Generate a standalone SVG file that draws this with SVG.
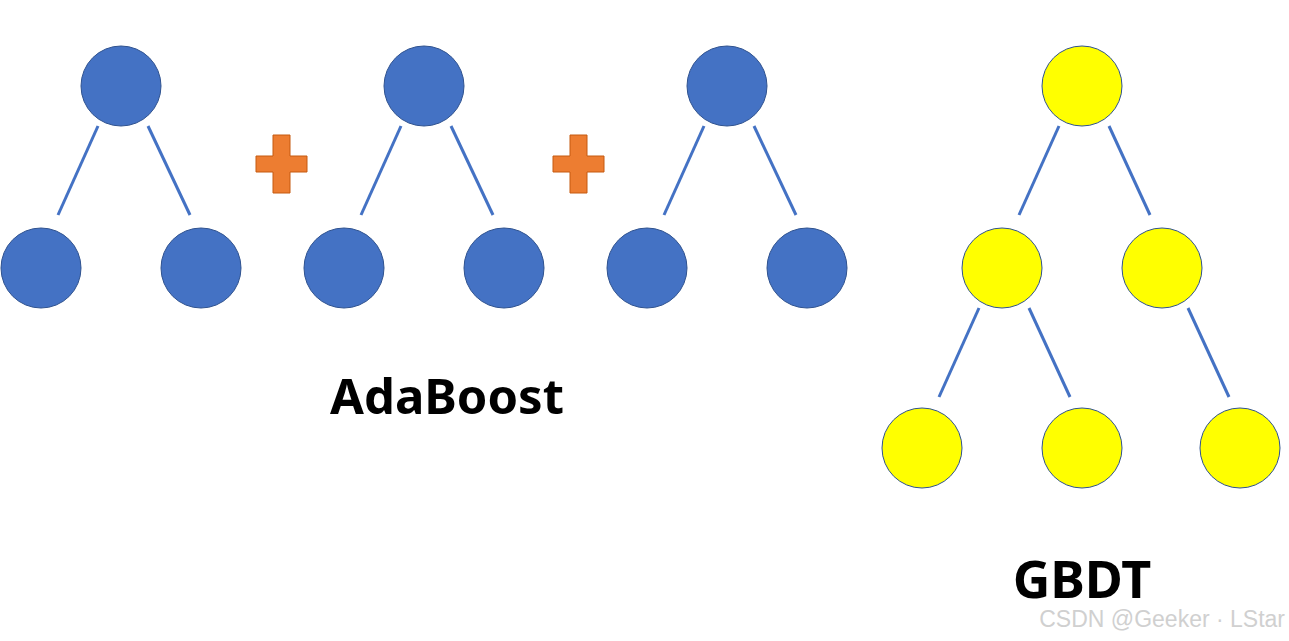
<svg xmlns="http://www.w3.org/2000/svg" width="1289" height="641" viewBox="0 0 1289 641">
<style>
.b{fill:#4472C4;stroke:#2F528F;stroke-width:1}
.y{fill:#FFFF00;stroke:#2F528F;stroke-width:1}
.e{stroke:#4472C4;stroke-width:3}
.p{fill:#ED7D31;stroke:#C55A11;stroke-width:1}
.t{font-family:"Noto Sans","Open Sans",sans-serif;font-weight:bold;fill:#000;text-anchor:middle}
</style>
<rect width="1289" height="641" fill="#fff"/>
<g id="connectors">
<line class="e" x1="98" y1="126" x2="58" y2="215"/><line class="e" x1="148" y1="126" x2="190" y2="215"/>
<line class="e" x1="401" y1="126" x2="361" y2="215"/><line class="e" x1="451" y1="126" x2="493" y2="215"/>
<line class="e" x1="704" y1="126" x2="664" y2="215"/><line class="e" x1="754" y1="126" x2="796" y2="215"/>
<line class="e" x1="1059" y1="126" x2="1019" y2="215"/><line class="e" x1="1109" y1="126" x2="1150" y2="215"/>
<line class="e" x1="979" y1="308" x2="939" y2="397"/><line class="e" x1="1029" y1="308" x2="1070" y2="397"/>
<line class="e" x1="1188" y1="308" x2="1229" y2="397"/>
</g>
<g id="ada1"><circle class="b" cx="121" cy="86" r="40"/><circle class="b" cx="41" cy="268" r="40"/><circle class="b" cx="201" cy="268" r="40"/></g>
<g id="ada2"><circle class="b" cx="424" cy="86" r="40"/><circle class="b" cx="344" cy="268" r="40"/><circle class="b" cx="504" cy="268" r="40"/></g>
<g id="ada3"><circle class="b" cx="727" cy="86" r="40"/><circle class="b" cx="647" cy="268" r="40"/><circle class="b" cx="807" cy="268" r="40"/></g>
<g id="plus1"><path class="p" d="M273,135H290V156H307V172H290V193H273V172H256V156H273Z"/></g>
<g id="plus2"><path class="p" d="M570,135H587V156H604V172H587V193H570V172H553V156H570Z"/></g>
<g id="gbdt">
<circle class="y" cx="1082" cy="86" r="40"/><circle class="y" cx="1002" cy="268" r="40"/><circle class="y" cx="1162" cy="268" r="40"/>
<circle class="y" cx="922" cy="448" r="40"/><circle class="y" cx="1082" cy="448" r="40"/><circle class="y" cx="1240" cy="448" r="40"/>
</g>
<text class="t" x="447" y="414" font-size="49">AdaBoost</text>
<text class="t" x="1082" y="598" font-size="52">GBDT</text>
<text x="1285" y="627" text-anchor="end" font-family="'Liberation Sans',Arial,sans-serif" font-size="23" fill="#d0d0d0">CSDN @Geeker · LStar</text>
</svg>
